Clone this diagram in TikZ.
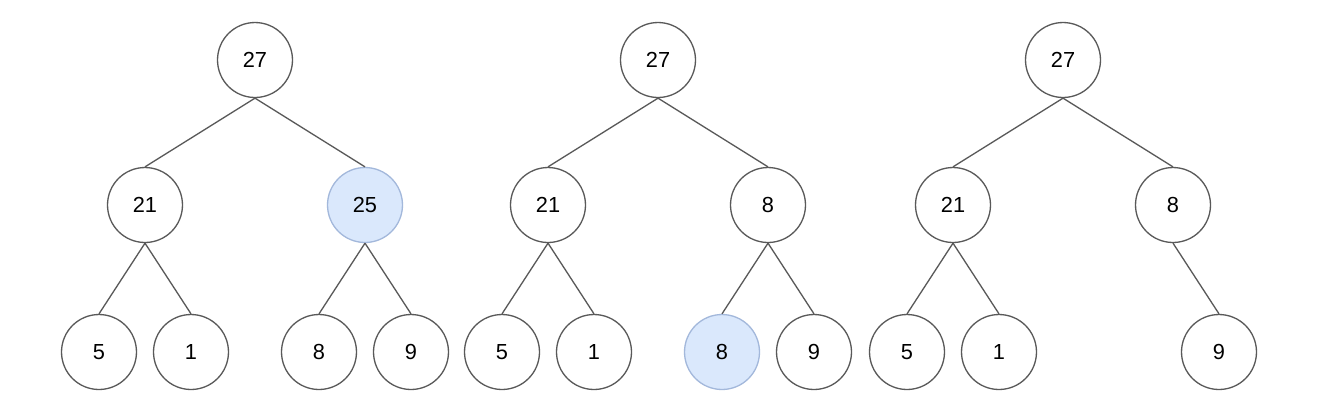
\documentclass[tikz,border=0pt]{standalone}
\usepackage{fontspec}
\setmainfont{Liberation Sans}
\usetikzlibrary{positioning}
\definecolor{swapfill}{HTML}{DAE8FC}
\definecolor{swapline}{HTML}{A3B8DB}

\begin{document}
\begin{tikzpicture}[x=0.02cm,y=-0.02cm,
    heapnode/.style={circle,draw=black!65,line width=0.75pt,minimum size=1.5cm,inner sep=0pt,
      font=\fontsize{12.4}{14}\selectfont},
    swapnode/.style={heapnode,fill=swapfill,draw=swapline},
    heapedge/.style={draw=black!65,line width=0.75pt}]
      \useasboundingbox (0,0) rectangle (1319,417);
      % first heap
      \node [heapnode] (ra) at (255,60) {27};
      \node [heapnode] (la) at (145,205) {21};
      \node [swapnode] (ka) at (365,205) {25};
      \node [heapnode] (lla) at (99,352) {5};
      \node [heapnode] (lra) at (191,352) {1};
      \node [heapnode] (kla) at (319,352) {8};
      \node [heapnode] (kra) at (411,352) {9};
      \draw [heapedge] (ra.south) -- (la.north);
      \draw [heapedge] (ra.south) -- (ka.north);
      \draw [heapedge] (la.south) -- (lla.north);
      \draw [heapedge] (la.south) -- (lra.north);
      \draw [heapedge] (ka.south) -- (kla.north);
      \draw [heapedge] (ka.south) -- (kra.north);
      % second heap
      \node [heapnode] (rb) at (658,60) {27};
      \node [heapnode] (lb) at (548,205) {21};
      \node [heapnode] (kb) at (768,205) {8};
      \node [heapnode] (llb) at (502,352) {5};
      \node [heapnode] (lrb) at (594,352) {1};
      \node [swapnode] (klb) at (722,352) {8};
      \node [heapnode] (krb) at (814,352) {9};
      \draw [heapedge] (rb.south) -- (lb.north);
      \draw [heapedge] (rb.south) -- (kb.north);
      \draw [heapedge] (lb.south) -- (llb.north);
      \draw [heapedge] (lb.south) -- (lrb.north);
      \draw [heapedge] (kb.south) -- (klb.north);
      \draw [heapedge] (kb.south) -- (krb.north);
      % third heap
      \node [heapnode] (rc) at (1063,60) {27};
      \node [heapnode] (lc) at (953,205) {21};
      \node [heapnode] (kc) at (1173,205) {8};
      \node [heapnode] (llc) at (907,352) {5};
      \node [heapnode] (lrc) at (999,352) {1};
      \node [heapnode] (krc) at (1219,352) {9};
      \draw [heapedge] (rc.south) -- (lc.north);
      \draw [heapedge] (rc.south) -- (kc.north);
      \draw [heapedge] (lc.south) -- (llc.north);
      \draw [heapedge] (lc.south) -- (lrc.north);
      \draw [heapedge] (kc.south) -- (krc.north);
    \end{tikzpicture}
\end{document}
